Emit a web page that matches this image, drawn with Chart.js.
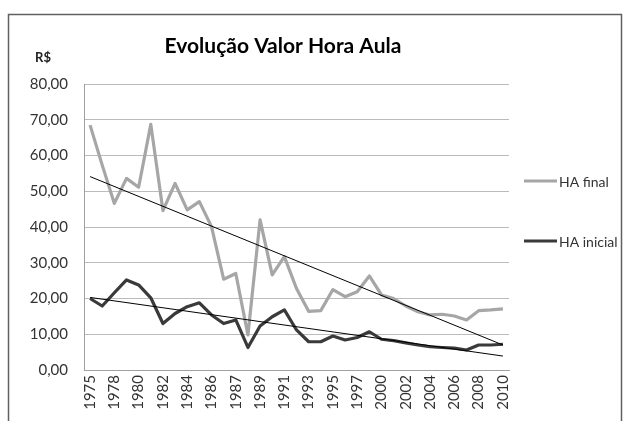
<!DOCTYPE html>
<html>
<head>
<meta charset="utf-8">
<script src="https://cdn.jsdelivr.net/npm/chart.js@4.4.1/dist/chart.umd.min.js"></script>
<style>
  html, body { margin: 0; padding: 0; background: #fff; }
  #wrap { position: relative; width: 625px; height: 421px; }
</style>
</head>
<body>
<div id="wrap"><canvas id="c" width="625" height="421"></canvas></div>
<script>
const years = ['1975','1977','1978','1979','1980','1981','1982','1983','1984','1985','1986','1986','1987','1988','1989','1990','1991','1992','1993','1994','1995','1996','1997','1998','2000','2001','2002','2003','2004','2005','2006','2007','2008','2009','2010'];
const haFinal = [68.5,57.3,46.6,53.6,51.1,68.7,44.6,52.2,44.8,47.1,40.1,25.4,27.0,9.8,42.0,26.6,31.7,22.8,16.4,16.6,22.5,20.5,21.9,26.3,21.0,20.0,17.9,16.3,15.4,15.6,15.1,14.0,16.6,16.8,17.1];
const haInicial = [20.0,17.9,21.6,25.2,23.8,20.2,13.0,15.8,17.7,18.8,15.4,13.0,14.0,6.3,12.3,14.9,16.8,11.2,7.9,7.9,9.5,8.4,9.1,10.7,8.6,8.2,7.6,7.0,6.5,6.3,6.1,5.6,7.0,7.0,7.2];
const trendFinalEnds = [54.1, 7.0];
const trendInicialEnds = [20.3, 3.9];
const yTicks = [0,10,20,30,40,50,60,70,80];
const titleText = 'Evolução Valor Hora Aula';
const unitText = 'R$';
const seriesNames = ['HA final', 'HA inicial'];

const FONT = 'Lato, "Open Sans", sans-serif';
const colFinal = '#a6a6a6';
const colInicial = '#3a3a3a';

function endsToData(ends) {
  const last = years.length - 1;
  return years.map((_, i) => i === 0 ? ends[0] : (i === last ? ends[1] : null));
}

const decor = {
  id: 'decor',
  afterDraw(chart) {
    const ctx = chart.ctx;
    ctx.save();
    ctx.strokeStyle = '#606060';
    ctx.lineWidth = 1.5;
    ctx.beginPath();
    ctx.moveTo(8.5, 430);
    ctx.lineTo(8.5, 14.5);
    ctx.lineTo(621.5, 14.5);
    ctx.lineTo(621.5, 430);
    ctx.stroke();
    ctx.fillStyle = '#000';
    ctx.font = 'bold 21px ' + FONT;
    ctx.textAlign = 'center';
    ctx.textBaseline = 'middle';
    ctx.fillText(titleText, 283, 46);
    ctx.font = 'bold 13px ' + FONT;
    ctx.fillStyle = '#222';
    ctx.fillText(unitText, 43, 58);
    const items = [
      { name: seriesNames[0], color: colFinal, y: 181 },
      { name: seriesNames[1], color: colInicial, y: 241 }
    ];
    ctx.textAlign = 'left';
    ctx.font = '14px ' + FONT;
    items.forEach(it => {
      ctx.strokeStyle = it.color;
      ctx.lineWidth = 3;
      ctx.beginPath();
      ctx.moveTo(524, it.y);
      ctx.lineTo(557, it.y);
      ctx.stroke();
      ctx.fillStyle = '#333';
      ctx.fillText(it.name, 559, it.y + 1);
    });
    ctx.restore();
  }
};

new Chart(document.getElementById('c'), {
  type: 'line',
  data: {
    labels: years,
    datasets: [
      { label: 'trend final', data: endsToData(trendFinalEnds), borderColor: '#000', borderWidth: 1, spanGaps: true, pointRadius: 0, fill: false },
      { label: 'trend inicial', data: endsToData(trendInicialEnds), borderColor: '#000', borderWidth: 1, spanGaps: true, pointRadius: 0, fill: false },
      { label: seriesNames[1], data: haInicial, borderColor: colInicial, borderWidth: 3.2, pointRadius: 0, fill: false, tension: 0, borderJoinStyle: 'round' },
      { label: seriesNames[0], data: haFinal, borderColor: colFinal, borderWidth: 3.2, pointRadius: 0, fill: false, tension: 0, borderJoinStyle: 'round' }
    ]
  },
  options: {
    responsive: false,
    animation: false,
    events: [],
    layout: { padding: { left: 8, right: 116, top: 84, bottom: 0 } },
    plugins: { legend: { display: false }, title: { display: false }, tooltip: { enabled: false } },
    scales: {
      x: {
        type: 'category',
        offset: true,
        grid: { display: false, drawTicks: false },
        border: { display: true, color: '#a0a0a0', width: 1 },
        ticks: {
          autoSkip: false,
          minRotation: 90,
          maxRotation: 90,
          padding: 5,
          color: '#333',
          font: { family: FONT, size: 15 },
          callback: (v, i) => (i % 2 === 0 ? years[i] : '')
        },
        afterFit: s => { s.height = 51; }
      },
      y: {
        min: yTicks[0],
        max: yTicks[yTicks.length - 1],
        afterBuildTicks: s => { s.ticks = yTicks.map(v => ({ value: v })); },
        grid: { color: '#bcbcbc', lineWidth: 1, drawTicks: false },
        border: { display: true, color: '#a0a0a0', width: 1 },
        ticks: {
          padding: 16,
          color: '#333',
          font: { family: FONT, size: 15 },
          callback: v => v.toFixed(2).replace('.', ',')
        },
        afterFit: s => { s.width = 76; }
      }
    }
  },
  plugins: [decor]
});
</script>
</body>
</html>
